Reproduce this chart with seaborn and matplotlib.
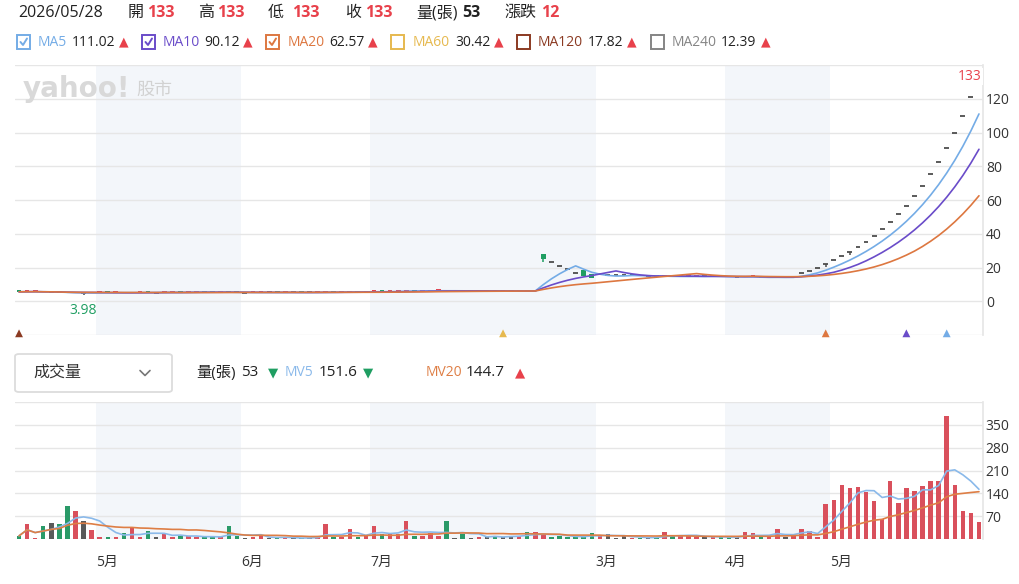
import numpy as np
import pandas as pd
import matplotlib
matplotlib.use('Agg')
import matplotlib.pyplot as plt
from matplotlib.patches import Rectangle, FancyBboxPatch
from matplotlib.lines import Line2D
import seaborn as sns

W, H = 1020, 584

# ---- data ----
month_labels = ['5月', '6月', '7月', '3月', '4月', '5月']
month_starts = [10, 28, 44, 72, 88, 101]
shaded_months = [0, 2, 4]

opens = [5.65, 5.60, 5.70, 5.75, 5.40, 5.40, 5.10, 4.60, 4.90, 4.90,
         5.10, 5.15, 5.05, 5.10, 4.95, 5.20, 5.25, 5.10, 5.10, 5.30,
         5.35, 5.25, 5.40, 5.50, 5.45, 5.40, 5.45, 5.20, 5.10, 5.10,
         5.15, 5.25, 5.25, 5.20, 5.25, 5.25, 5.20, 5.20, 5.25, 5.45,
         5.40, 5.45, 5.60, 5.55, 5.60, 5.80, 5.70, 5.80, 5.90, 6.20,
         6.10, 6.15, 6.30, 6.35, 6.10, 6.10, 6.00, 6.00, 6.10, 6.10,
         6.00, 6.00, 6.00, 6.20, 6.10, 27.90, 23.00, 21.00, 19.00, 17.00,
         18.80, 15.90, 16.50, 15.30, 15.30, 15.30, 15.30, 15.10, 14.90, 14.90,
         14.60, 14.90, 14.50, 14.60, 14.70, 14.80, 14.80, 14.90, 14.50, 14.20,
         14.20, 14.60, 14.90, 13.50, 13.60, 14.30, 14.30, 16.55, 18.20, 20.00,
         22.00, 24.20, 26.60, 29.25, 32.15, 35.35, 38.85, 42.70, 46.95, 51.60,
         56.70, 62.30, 68.50, 75.30, 82.80, 91.00, 100.0, 110.0, 121.0, 133.0]

closes = [5.60, 5.70, 5.75, 5.40, 5.40, 5.10, 4.60, 4.90, 4.90, 5.10,
          5.15, 5.05, 5.10, 4.95, 5.20, 5.25, 5.10, 5.10, 5.30, 5.35,
          5.25, 5.40, 5.50, 5.45, 5.40, 5.45, 5.20, 5.10, 5.10, 5.15,
          5.25, 5.25, 5.20, 5.25, 5.25, 5.20, 5.20, 5.25, 5.45, 5.40,
          5.45, 5.60, 5.55, 5.60, 5.80, 5.70, 5.80, 5.90, 6.20, 6.10,
          6.15, 6.30, 6.35, 6.10, 6.10, 6.00, 6.00, 6.10, 6.10, 6.00,
          6.00, 6.00, 6.20, 6.10, 6.30, 24.80, 23.00, 21.00, 19.00, 17.00,
          15.00, 13.90, 15.30, 15.30, 15.30, 15.30, 15.10, 14.90, 14.90, 14.60,
          14.90, 14.50, 14.60, 14.70, 14.80, 14.80, 14.90, 14.50, 14.20, 14.20,
          14.60, 14.90, 13.50, 13.60, 14.30, 14.30, 15.05, 16.55, 18.20, 20.00,
          22.00, 24.20, 26.60, 29.25, 32.15, 35.35, 38.85, 42.70, 46.95, 51.60,
          56.70, 62.30, 68.50, 75.30, 82.80, 91.00, 100.0, 110.0, 121.0, 133.0]

# lower shadows that stick out of the body
wick_low = {8: 3.98, 65: 23.0, 100: 20.2, 103: 27.5}

volumes = [9, 46, 2, 38, 49, 46, 100, 85, 56, 28,
           4, 4, 4, 17, 35, 5, 23, 5, 15, 5,
           8, 9, 5, 5, 5, 5, 38, 8, 1, 5,
           10, 2, 2, 3, 2, 2, 3, 7, 46, 5,
           4, 31, 4, 9, 38, 14, 15, 14, 54, 10,
           7, 19, 7, 54, 2, 14, 2, 4, 7, 9,
           5, 9, 9, 20, 20, 12, 5, 7, 5, 7,
           7, 19, 7, 14, 2, 7, 2, 2, 4, 5,
           20, 12, 7, 9, 5, 5, 5, 5, 5, 5,
           20, 17, 5, 7, 31, 5, 15, 31, 25, 4,
           108, 119, 165, 155, 158, 145, 116, 61, 178, 111,
           155, 147, 161, 178, 178, 378, 165, 85, 80, 53]

vol_dir = list('grrgkggrkr' 'rgrgrrgkrr' 'grrggrggkr' 'rkgrkgkrrg'
               'rrgrrgrrrg' 'rrrgkgkrkg' 'kkrgrrgggg' 'ggrkkkrgkg'
               'rgrrrkrggk' 'rrgrrkrrrr' 'rrrrrrrrrr' 'rrrrrrrrrr')

ma_names = ['MA5', 'MA10', 'MA20', 'MA60', 'MA120', 'MA240']
ma_values = [111.02, 90.12, 62.57, 30.42, 17.82, 12.39]
ma_checked = [True, True, True, False, False, False]
ma_windows = [5, 10, 20]

signal_idx = [0, 60, 100, 110, 115]
signal_ma = [4, 3, 2, 1, 0]

date_label = '2026/05/28'
mv_names = ['MV5', 'MV20']
mv_values = [151.6, 144.7]
mv_up = [False, True]

# ---- style ----
RED = '#e8414b'
GREEN = '#1f9e62'
DOJI = '#4d4d4d'
VRED = '#d9505c'
VGREEN = '#2a9a68'
VGRAY = '#5a5a5a'
BAND = '#f3f6fa'
GRID = '#e6e6e6'
TXT = '#222222'
ma_colors = ['#74ace6', '#6a4cc9', '#dd7740', '#e6b94f', '#8b3a22', '#858585']
mv_colors = ['#8ab9ea', '#de7e45']

sns.set_theme(style='white')
plt.rcParams['font.family'] = ['Open Sans', 'Noto Sans CJK TC', 'DejaVu Sans']

fig = plt.figure(figsize=(W / 100, H / 100), dpi=100)
fig.patch.set_facecolor('white')


def fx(px):
    return px / W


def fy(py):
    return 1 - py / H


def ftext(x, y, s, **kw):
    kw.setdefault('color', TXT)
    fig.text(fx(x), fy(y), s, va='center', ha='left', **kw)


ax_p = fig.add_axes([fx(15), fy(335), (983 - 15) / W, (335 - 65) / H])
ax_v = fig.add_axes([fx(15), fy(538.75), (983 - 15) / W, (538.75 - 402.25) / H])

N = len(closes)
x = np.arange(N)
df = pd.DataFrame({'x': x, 'open': opens, 'close': closes, 'vol': volumes})
for w in ma_windows:
    df[f'ma{w}'] = df['close'].rolling(w, min_periods=1).mean()
df['mv5'] = df['vol'].rolling(5, min_periods=1).mean()
df['mv20'] = df['vol'].rolling(20, min_periods=1).mean()

for ax in (ax_p, ax_v):
    for k in shaded_months:
        ax.axvspan(month_starts[k] - 0.5, month_starts[k + 1] - 0.5,
                   color=BAND, lw=0, zorder=0)
    ax.set_axisbelow(True)
    ax.grid(True, axis='y', color=GRID, lw=1)
    ax.grid(False, axis='x')
    for s in ['top', 'left', 'bottom']:
        ax.spines[s].set_visible(False)
    ax.spines['right'].set_color(GRID)
    ax.yaxis.tick_right()
    ax.tick_params(axis='y', length=0, pad=2, labelsize=10, labelcolor='#333333')
    ax.tick_params(axis='x', length=0)
    ax.set_xticks([])

# ---- price candles ----
o = df['open'].to_numpy()
c = df['close'].to_numpy()
lo = np.minimum(o, c)
hi = np.maximum(o, c)
lows = lo.copy()
for k, v in wick_low.items():
    lows[k] = v

for i in range(N):
    if o[i] == c[i]:
        col = DOJI
        ax_p.hlines(c[i], i - 0.3, i + 0.3, color=col, lw=1.3, zorder=3)
    else:
        col = RED if c[i] > o[i] else GREEN
        ax_p.bar(i, max(hi[i] - lo[i], 0.8), bottom=lo[i], width=0.58,
                 color=col, lw=0, zorder=3)
    if lows[i] < lo[i]:
        ax_p.vlines(i, lows[i], lo[i], color=col, lw=1.1, zorder=3)

for w, col in zip(ma_windows, ma_colors):
    sns.lineplot(data=df, x='x', y=f'ma{w}', ax=ax_p, color=col, lw=1.2,
                 estimator=None, legend=False, zorder=4)

ax_p.scatter([signal_idx], [-19] * len(signal_idx), marker='^', s=32,
             c=[ma_colors[m] for m in signal_ma], lw=0, zorder=5, clip_on=False)

ax_p.set_xlim(-0.5, N - 0.5)
ax_p.set_ylim(-20, 140)
p_ticks = list(range(-20, 141, 20))
ax_p.set_yticks(p_ticks)
ax_p.set_yticklabels(['' if t in (-20, 140) else str(t) for t in p_ticks])
ax_p.set_xlabel('')
ax_p.set_ylabel('')

imin = int(np.argmin(lows))
ax_p.annotate(f'{lows[imin]:g}', xy=(imin, lows[imin]), xytext=(0, -8),
              textcoords='offset pixels', ha='center', va='top',
              color=GREEN, fontsize=10)
imax = int(np.argmax(hi))
ax_p.annotate(f'{hi[imax]:g}', xy=(N - 0.5, hi[imax]), xytext=(-1, 0),
              textcoords='offset pixels', ha='right', va='center',
              color=RED, fontsize=10, zorder=6,
              bbox=dict(fc='white', ec='none', pad=0.6))

ax_p.text(0.008, 0.912, 'yahoo!', transform=ax_p.transAxes, fontsize=20,
          fontweight='heavy', color='#d9d9d9', va='center', ha='left',
          family='DejaVu Sans', zorder=1)
ax_p.text(0.125, 0.905, '股市', transform=ax_p.transAxes, fontsize=13,
          color='#d2d2d2', va='center', ha='left', zorder=1,
          family='Noto Sans CJK TC')

# ---- volume ----
vcol = {'r': VRED, 'g': VGREEN, 'k': VGRAY}
ax_v.bar(x, df['vol'], width=0.55, color=[vcol[d] for d in vol_dir], lw=0, zorder=3)
sns.lineplot(data=df, x='x', y='mv5', ax=ax_v, color=mv_colors[0], lw=1.2,
             estimator=None, legend=False, zorder=4)
sns.lineplot(data=df, x='x', y='mv20', ax=ax_v, color=mv_colors[1], lw=1.2,
             estimator=None, legend=False, zorder=4)
ax_v.set_xlim(-0.5, N - 0.5)
ax_v.set_ylim(0, 420)
v_ticks = list(range(0, 421, 70))
ax_v.set_yticks(v_ticks)
ax_v.set_yticklabels(['' if t in (0, 420) else str(t) for t in v_ticks])
ax_v.set_xlabel('')
ax_v.set_ylabel('')

for lab, st in zip(month_labels, month_starts):
    ax_v.annotate(lab, xy=(st - 0.5, 0), xycoords=('data', 'axes fraction'),
                  xytext=(0, -24), textcoords='offset pixels', ha='left',
                  va='center', fontsize=10, color='#333333')

# ---- header row 1 ----
chg = closes[-1] - closes[-2]
ftext(18, 13, date_label, fontsize=11.5)
row1 = [(128, '開', 147, opens[-1]), (198, '高', 217, hi[-1]),
        (268, '低', 292, lows[-1]), (345, '收', 365, closes[-1])]
for lx, lab, vx, val in row1:
    ftext(lx, 13, lab, fontsize=11.5)
    ftext(vx, 13, f'{val:g}', fontsize=11.5, color=RED, fontweight='bold')
ftext(416, 13, '量(張)', fontsize=11.5)
ftext(462, 13, f'{volumes[-1]}', fontsize=11.5, fontweight='bold')
ftext(504, 13, '漲跌', fontsize=11.5)
ftext(541, 13, f'{chg:g}', fontsize=11.5, color=RED, fontweight='bold')

# ---- header row 2 (MA checkboxes) ----
box_x = [17, 142, 266, 391, 517, 651]
name_x = [38, 163, 288, 413, 538, 672]
val_x = [72, 204, 329, 455, 588, 721]
arr_x = [119, 243, 368, 494, 627, 761]
for i in range(len(ma_names)):
    col = ma_colors[i]
    fig.add_artist(Rectangle((fx(box_x[i]), fy(48.5)), 13 / W, 13 / H,
                             transform=fig.transFigure, fill=False, ec=col, lw=1.4))
    if ma_checked[i]:
        bx = box_x[i]
        fig.add_artist(Line2D([fx(bx + 3.5), fx(bx + 6), fx(bx + 10)],
                              [fy(42), fy(45), fy(38.5)],
                              transform=fig.transFigure, color=col, lw=1.4))
    ftext(name_x[i], 42, ma_names[i], fontsize=10, color=col)
    ftext(val_x[i], 42, f'{ma_values[i]:.2f}', fontsize=10)
    ftext(arr_x[i], 42, '▲', fontsize=9, color=RED, family='DejaVu Sans')

# ---- volume header ----
fig.add_artist(FancyBboxPatch((fx(15), fy(392)), 157 / W, 38 / H,
                              boxstyle='round,pad=0,rounding_size=0.004',
                              transform=fig.transFigure, fc='white',
                              ec='#dcdcdc', lw=1.3))
ftext(33, 373, '成交量', fontsize=11.5, color='#333333')
fig.add_artist(Line2D([fx(140), fx(145), fx(150)], [fy(370.5), fy(375.5), fy(370.5)],
                      transform=fig.transFigure, color='#777777', lw=1.2))
ftext(196, 373, '量(張)', fontsize=11)
ftext(241, 373, f'{volumes[-1]}', fontsize=11)
vol_up = volumes[-1] > volumes[-2]
ftext(268, 373, '▲' if vol_up else '▼', fontsize=9.5,
      color=RED if vol_up else GREEN, family='DejaVu Sans')
mv_name_x = [285, 426]
mv_val_x = [319, 466]
mv_arr_x = [363, 515]
for i in range(2):
    ftext(mv_name_x[i], 373, mv_names[i], fontsize=10, color=mv_colors[i])
    ftext(mv_val_x[i], 373, f'{mv_values[i]:.1f}', fontsize=11)
    ftext(mv_arr_x[i], 373, '▲' if mv_up[i] else '▼', fontsize=9.5,
          color=RED if mv_up[i] else GREEN, family='DejaVu Sans')

fig.savefig('out.png', dpi=100, facecolor='white')
